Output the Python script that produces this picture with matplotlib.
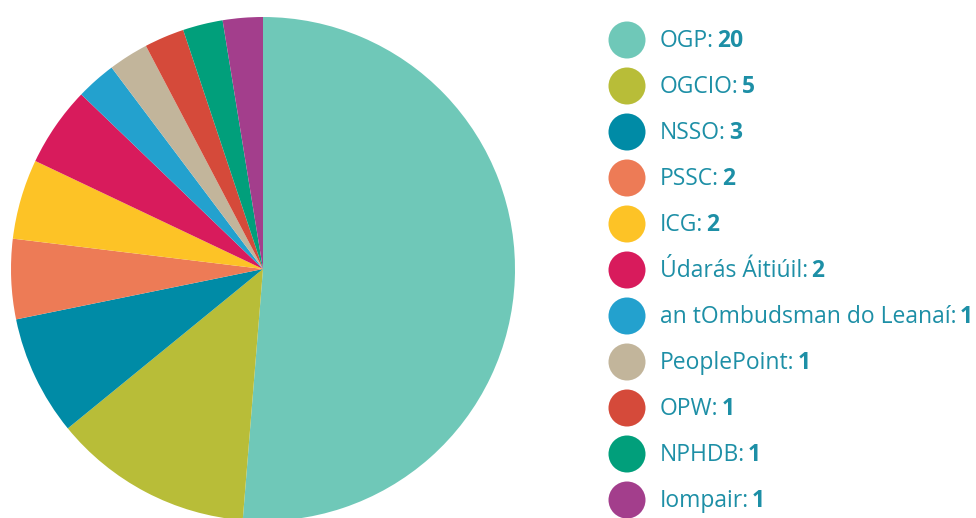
import matplotlib
matplotlib.use("Agg")
import matplotlib.pyplot as plt
from matplotlib.patches import Circle

labels = ["OGP", "OGCIO", "NSSO", "PSSC", "ICG", "Údarás Áitiúil",
          "an tOmbudsman do Leanaí", "PeoplePoint", "OPW", "NPHDB", "Iompair"]
values = [20, 5, 3, 2, 2, 2, 1, 1, 1, 1, 1]
colors = ["#6fc8b8", "#b8bd38", "#008ba6", "#ed7b56", "#fdc326", "#d81b5c",
          "#23a1ce", "#c2b59b", "#d54a3a", "#019f7b", "#a33e8c"]
text_color = "#1d8fa6"

W, H = 976, 518
fig = plt.figure(figsize=(W / 100, H / 100), dpi=100)
fig.patch.set_facecolor("white")

# pie axes placed in pixel coordinates
cx, cy, r = 263, 269, 252
ax = fig.add_axes([(cx - r) / W, (H - cy - r) / H, 2 * r / W, 2 * r / H])
ax.pie(values, colors=colors, startangle=90, counterclock=False, radius=1,
       wedgeprops=dict(linewidth=0))
ax.set_xlim(-1, 1)
ax.set_ylim(-1, 1)
ax.set_aspect("equal")
ax.axis("off")

# legend drawn manually
lax = fig.add_axes([0, 0, 1, 1], facecolor="none")
lax.set_xlim(0, W)
lax.set_ylim(H, 0)
lax.axis("off")

fig.canvas.draw()
renderer = fig.canvas.get_renderer()
y0, step = 40, 46
fs = 16.5
for i, (lab, val, col) in enumerate(zip(labels, values, colors)):
    y = y0 + i * step
    lax.add_patch(Circle((627, y), 18.5, color=col, lw=0))
    t = lax.text(660, y + 1, f"{lab}:", color=text_color, fontsize=fs,
                 family="Open Sans", va="center", ha="left")
    bb = t.get_window_extent(renderer=renderer)
    x_end = bb.x1 / fig.dpi * 100  # pixels
    lax.text(x_end + 3, y + 1, str(val), color=text_color, fontsize=fs,
             family="Open Sans", fontweight="bold", va="center", ha="left")

fig.savefig("out.png", dpi=100, facecolor="white")
